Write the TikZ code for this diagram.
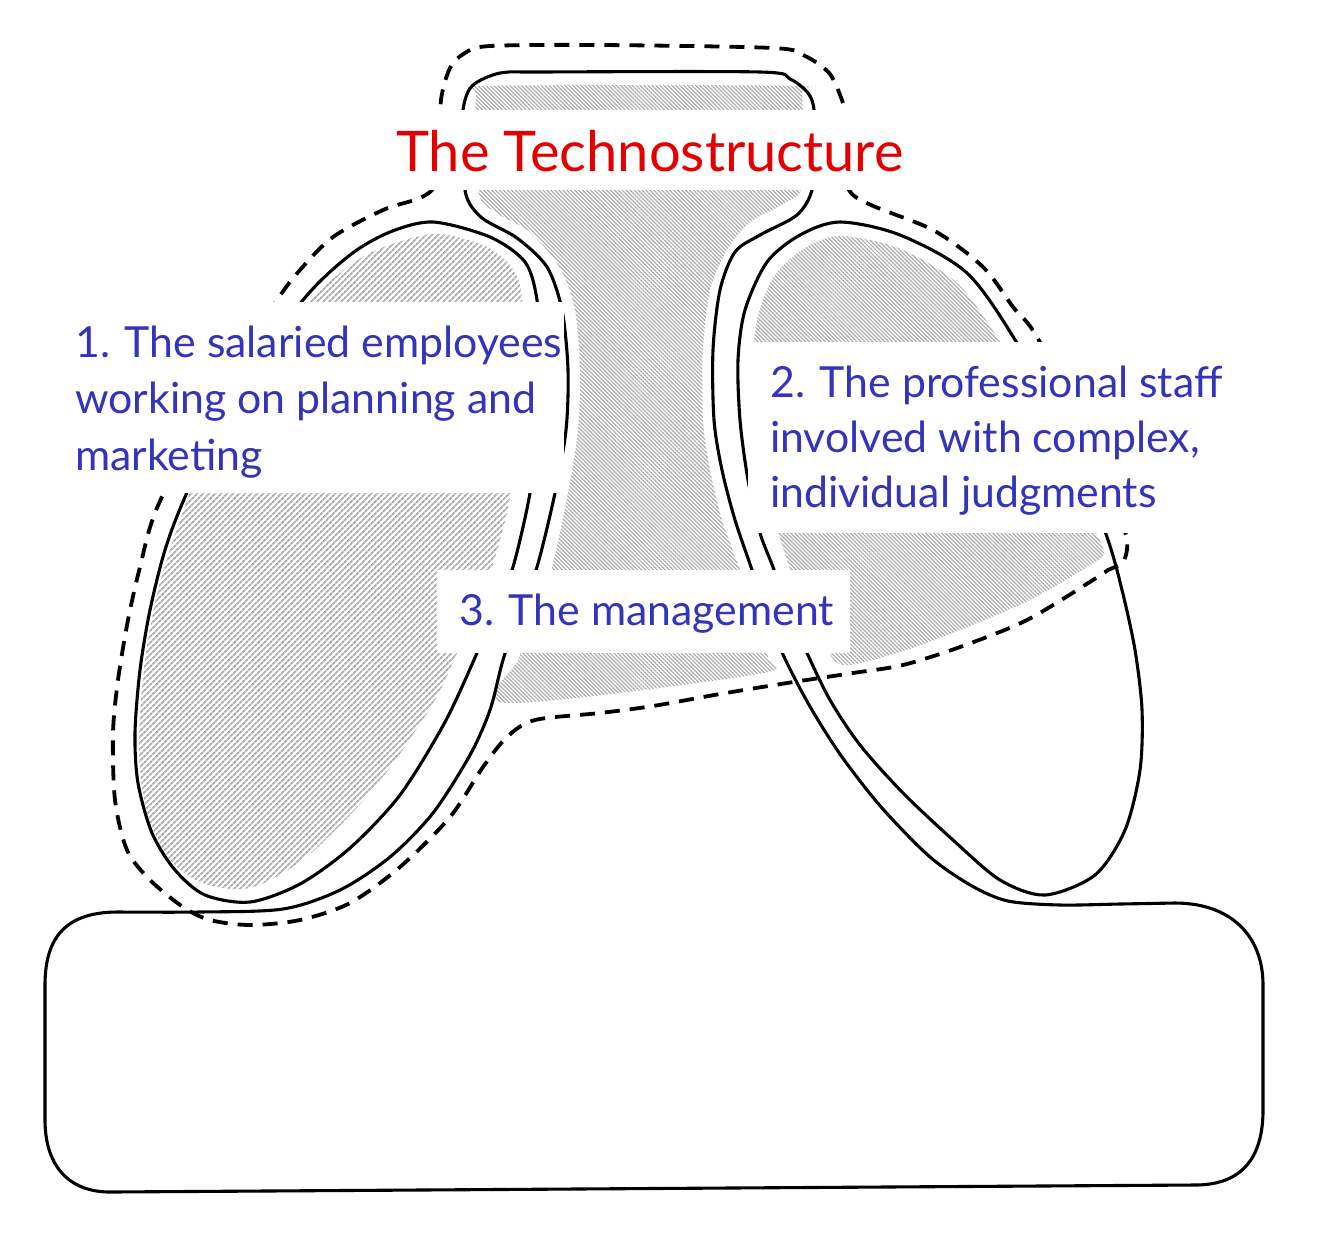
\documentclass[tikz,border=0pt]{standalone}
\usepackage{fontspec}
\setmainfont{Lato}
\usetikzlibrary{patterns.meta}
\definecolor{hatchgray}{RGB}{172,172,172}
\definecolor{labelblue}{RGB}{51,51,187}
\definecolor{titlered}{RGB}{228,0,0}
\tikzset{
  outline/.style={line width=3.1pt, line join=round, line cap=round},
  dashline/.style={line width=3.8pt, dash pattern=on 15pt off 10pt},
  finehatch/.style={pattern={Lines[angle=-45,distance=2.8pt,line width=1.2pt]}, pattern color=hatchgray},
  coarsehatch/.style={pattern={Lines[angle=45,distance=4pt,line width=1.8pt]}, pattern color=hatchgray},
  whitebox/.style={fill=white},
  bluetext/.style={text=labelblue, font=\fontsize{42.8}{50}\selectfont, anchor=base west, inner sep=0pt},
  titletext/.style={text=titlered, font=\fontsize{56}{62}\selectfont, anchor=base west, inner sep=0pt},
}
\begin{document}
\begin{tikzpicture}[x=1pt,y=-1pt]
\path[use as bounding box, fill=white] (0,0) rectangle (1321,1235);

% hatched areas
\path[coarsehatch] plot[smooth cycle] coordinates {(433,234) (485,246) (512,268) (522,300) (520,400) (510,497) (492,567) (470,625) (457,653) (435,700) (392,765) (350,815) (300,862) (250,888) (205,884) (172,862) (150,822) (141,780) (139,733) (145,660) (158,590) (180,520) (215,430) (270,345) (320,290) (370,253)};

\path[finehatch] plot[smooth cycle] coordinates {(485,86) (795,86) (802,95) (802,185) (785,203) (750,222) (727,250) (710,290) (703,350) (703,420) (710,470) (722,520) (740,570) (756,620) (768,658) (758,674) (506,703) (518,660) (535,615) (552,567) (568,493) (578,430) (580,370) (575,310) (560,268) (530,232) (495,212) (478,190) (476,95)};

\path[finehatch] plot[smooth cycle] coordinates {(840,236) (898,248) (958,284) (1005,350) (1055,440) (1092,525) (1103,548) (1098,560) (1030,600) (960,630) (900,652) (843,665) (822,640) (800,595) (783,548) (770,500) (758,440) (752,380) (757,320) (775,275) (805,248)};

% inner ellipses
\draw[outline] plot[smooth cycle] coordinates {(433,222) (490,237) (525,262) (537,300) (540,360) (538,420) (530,493) (513,567) (497,605) (477,653) (445,722) (400,795) (350,848) (300,884) (250,902) (205,895) (175,870) (152,833) (138,783) (135,733) (140,670) (150,610) (165,550) (185,497) (230,400) (303,300) (350,255) (390,232)};

\draw[outline] plot[smooth cycle] coordinates {(840,222) (900,235) (967,273) (1017,343) (1070,440) (1107,537) (1122,590) (1135,650) (1142,710) (1140,770) (1125,830) (1095,875) (1045,895) (1000,880) (953,840) (903,793) (860,745) (830,700) (807,653) (788,610) (773,567) (760,533) (748,480) (740,420) (738,360) (745,310) (767,262) (800,235)};

% outer silhouette
\draw[outline] (45,985) .. controls (45,935) and (68,912) .. (118,912)
  -- plot[smooth] coordinates {(118,912) (200,912) (283,909) (340,890) (390,857) (433,813) (470,755) (490,710) (503,660) (520,610) (537,567) (555,493) (566,430) (568,370) (562,310) (547,267) (517,238) (482,218) (466,195) (463,150) (463,110) (472,86) (500,73) (540,72) (760,72) (790,79) (808,93) (814,110) (814,150) (812,190) (797,215) (760,235) (735,252) (720,290) (713,350) (714,420) (722,470) (735,520) (752,570) (768,620) (788,665) (812,710) (842,757) (882,808) (930,857) (972,886) (1008,901) (1060,905) (1120,904) (1175,903)}
  .. controls (1230,903) and (1263,935) .. (1263,985) -- (1263,1110)
  .. controls (1263,1160) and (1240,1185) .. (1195,1185) -- (110,1192)
  .. controls (68,1192) and (45,1165) .. (45,1120) -- cycle;

% dashed boundary
\draw[dashline] plot[smooth] coordinates {(843,103) (830,74) (805,56) (773,48) (600,45) (490,46) (465,53) (450,68) (441,100) (440,150) (435,185) (420,198) (383,210) (333,237) (300,270) (277,300) (210,400) (157,508) (140,567) (128,620) (118,680) (113,733) (115,800) (127,850) (150,880) (183,907) (210,920) (250,925) (300,920) (350,903) (400,867) (450,817) (483,767) (507,737) (535,720) (600,713) (653,706) (720,694) (787,683) (853,673) (903,665) (960,647) (1027,620) (1093,580) (1108,570)}
  -- (1122,564) -- plot[smooth] coordinates {(1122,564) (1126,535) (1090,440) (1037,337) (1013,307) (983,267) (933,230) (853,195) (845,150) (843,103)};

% white label boxes
\fill[whitebox] (395,110) rectangle (910,190);
\fill[whitebox] (60,302) rectangle (564,493);
\fill[whitebox] (748,342) rectangle (1235,533);
\fill[whitebox] (437,570) rectangle (850,653);

% texts
\node[titletext] (title) at (396,171) {The Technostructure};
\node[bluetext] (l1a) at (75,357) {1. The salaried employees};
\node[bluetext] (l1b) at (75,413) {working on planning and};
\node[bluetext] (l1c) at (75,470) {marketing};
\node[bluetext] (l2a) at (770,397) {2. The professional staff};
\node[bluetext] (l2b) at (770,452) {involved with complex,};
\node[bluetext] (l2c) at (770,507) {individual judgments};
\node[bluetext] (l3) at (459,625) {3. The management};
\end{tikzpicture}
\end{document}
